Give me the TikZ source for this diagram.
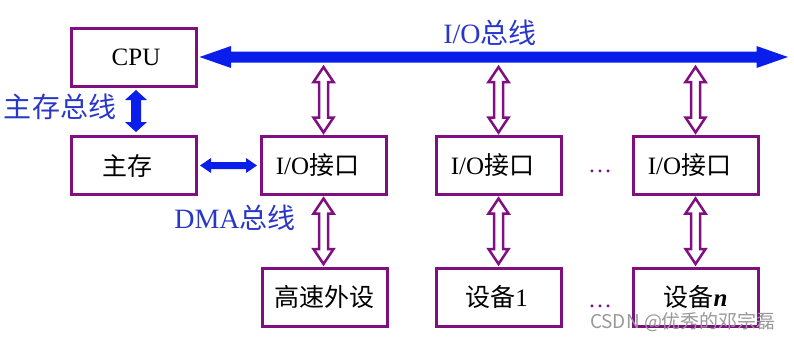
\documentclass[tikz,border=0pt]{standalone}
\usepackage{fontspec}
\setmainfont{Liberation Serif}
\newfontfamily\cjk{Noto Sans CJK SC}
\usetikzlibrary{calc}
\definecolor{boxpurple}{RGB}{128,16,128}
\definecolor{busblue}{RGB}{10,30,235}
\definecolor{lblblue}{RGB}{40,55,200}
% vertical double arrow: #1 style, #2 top tip, #3 bottom tip, #4 half shaft, #5 half head, #6 head length
\newcommand\vdarrow[6]{%
 \draw[#1] (#2) -- ($(#2)+(#5,#6)$) -- ($(#2)+(#4,#6)$) -- ($(#3)+(#4,-#6)$) -- ($(#3)+(#5,-#6)$) -- (#3)
  -- ($(#3)+(-#5,-#6)$) -- ($(#3)+(-#4,-#6)$) -- ($(#2)+(-#4,#6)$) -- ($(#2)+(-#5,#6)$) -- cycle;}
% horizontal double arrow: #1 style, #2 left tip, #3 right tip, #4 half shaft, #5 half head, #6 head length
\newcommand\hdarrow[6]{%
 \draw[#1] (#2) -- ($(#2)+(#6,-#5)$) -- ($(#2)+(#6,-#4)$) -- ($(#3)+(-#6,-#4)$) -- ($(#3)+(-#6,-#5)$) -- (#3)
  -- ($(#3)+(-#6,#5)$) -- ($(#3)+(-#6,#4)$) -- ($(#2)+(#6,#4)$) -- ($(#2)+(#6,#5)$) -- cycle;}
\newcommand\iotext{\hspace*{-12pt}I/O{\cjk 接口}}
\begin{document}
\begin{tikzpicture}[x=1pt,y=-1pt,
  box/.style={draw=boxpurple, line width=3pt, minimum width=125pt, minimum height=58pt,
    inner sep=0pt, fill=white, font=\fontsize{25}{29}\selectfont},
  hollowarr/.style={draw=boxpurple, fill=white, line width=2.5pt, line join=miter},
  solidarr/.style={fill=busblue, draw=none},
  lbl/.style={text=lblblue, inner sep=0pt, font=\fontsize{28}{32}\selectfont},
  dotsty/.style={text=boxpurple, inner sep=0pt, anchor=base, font=\fontsize{24}{28}\selectfont},
  wmark/.style={text=black!40, inner sep=0pt, font=\cjk\fontsize{19}{22}\selectfont}]
\useasboundingbox (0,0) rectangle (794,341);
% boxes
\node[box] (cpu) at (133.5,57) {\hspace*{5pt}CPU};
\node[box] (mem) at (133.5,165.5) {\hspace*{-12pt}\cjk 主存};
\node[box] (io1) at (323.5,165.5) {\iotext};
\node[box] (io2) at (498.5,165.5) {\iotext};
\node[box] (io3) at (695.5,165.5) {\iotext};
\node[box] (hs) at (324.5,297) {\cjk 高速外设};
\node[box] (d1) at (498.5,297) {\hspace*{-4pt}{\cjk 设备}1};
\node[box] (dn) at (695.5,297) {{\cjk 设备}\textbf{\textit{n}}};
% bus
\coordinate (busL) at ($(cpu.east)+(2,0)$);
\coordinate (busR) at (788,57);
\coordinate (busbot) at (0,67);
\hdarrow{solidarr}{busL}{busR}{5.5}{11}{31.5}
% memory bus
\coordinate (mbT) at ($(cpu.south)+(2.5,2.5)$);
\coordinate (mbB) at ($(mem.north)+(2.5,-3)$);
\vdarrow{solidarr}{mbT}{mbB}{5}{11}{10}
% DMA bus
\coordinate (dmaL) at ($(mem.east)+(2.5,0)$);
\coordinate (dmaR) at ($(io1.west)+(-2.5,0)$);
\hdarrow{solidarr}{dmaL}{dmaR}{3.5}{7.5}{11}
% hollow arrows bus <-> interfaces
\foreach \n in {io1,io2,io3}{
  \coordinate (t) at (\n.north |- busbot);
  \coordinate (b) at ($(\n.north)+(0,-2.5)$);
  \vdarrow{hollowarr}{t}{b}{4.5}{10}{15}
}
% hollow arrows interfaces <-> devices
\foreach \a/\b in {io1/hs,io2/d1,io3/dn}{
  \coordinate (t) at ($(\a.south)+(0,2.5)$);
  \coordinate (b) at ($(\a.south|-\b.north)+(0,-2.5)$);
  \vdarrow{hollowarr}{t}{b}{4.5}{10}{15}
}
% labels
\node[lbl] (iolbl) at (490,33) {I/O{\cjk 总线}};
\node[lbl] (mblbl) at (60,107) {\cjk 主存总线};
\node[lbl] (dmalbl) at (235,218) {DMA{\cjk 总线}};
% ellipses
\node[dotsty] (dots1) at (600,172) {…};
\node[dotsty] (dots2) at (600,307) {…};
% watermark
\node[wmark] (wm) at (683,322) {CSDN @优秀的邓宗磊};
\end{tikzpicture}
\end{document}
